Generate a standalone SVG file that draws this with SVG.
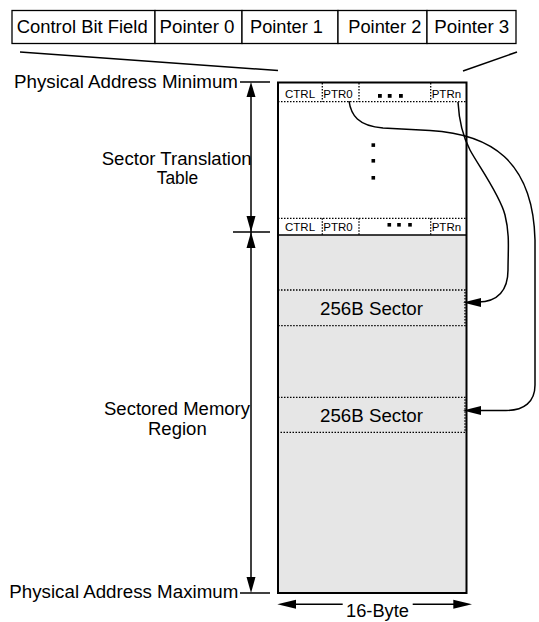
<svg xmlns="http://www.w3.org/2000/svg" width="539" height="622" viewBox="0 0 539 622">
<style>
text{font-family:"Liberation Sans",Arial,Helvetica,sans-serif;fill:#000}
.big{font-size:17.5px}
.sm{font-size:11.5px}
.cell{fill:#fff;stroke:#000;stroke-width:1.3}
.dot{stroke:#000;stroke-width:1.3;stroke-dasharray:1.5 1.5;fill:none}
.ln{stroke:#000;stroke-width:1.5;fill:none}
.sq{fill:#000}
</style>
<rect width="539" height="622" fill="#fff"/>
<g id="entry-format">
<rect class="cell" x="12" y="10.5" width="143" height="33"/>
<rect class="cell" x="155" y="10.5" width="87" height="33"/>
<rect class="cell" x="242" y="10.5" width="96" height="33"/>
<rect class="cell" x="338" y="10.5" width="89" height="33"/>
<rect class="cell" x="427" y="10.5" width="89" height="33"/>
<text class="big" x="16.7" y="32.7" textLength="131" lengthAdjust="spacingAndGlyphs">Control Bit Field</text>
<text class="big" x="159.5" y="32.7" textLength="75" lengthAdjust="spacingAndGlyphs">Pointer 0</text>
<text class="big" x="250" y="32.7" textLength="73" lengthAdjust="spacingAndGlyphs">Pointer 1</text>
<text class="big" x="348.3" y="32.7" textLength="73" lengthAdjust="spacingAndGlyphs">Pointer 2</text>
<text class="big" x="434.3" y="32.7" textLength="75" lengthAdjust="spacingAndGlyphs">Pointer 3</text>
</g>
<g id="zoom-lines">
<line class="ln" x1="20" y1="52" x2="278" y2="70.5"/>
<line class="ln" x1="463" y1="71" x2="517" y2="52"/>
</g>
<g id="memory">
<rect x="278" y="82.5" width="188.5" height="152.5" fill="#fff"/>
<rect x="278" y="235" width="188.5" height="358" fill="#e6e6e6"/>
<line class="dot" x1="278" y1="101.7" x2="466" y2="101.7"/>
<line class="dot" x1="322.3" y1="83" x2="322.3" y2="101.7"/>
<line class="dot" x1="359" y1="83" x2="359" y2="101.7"/>
<line class="dot" x1="430.7" y1="83" x2="430.7" y2="101.7"/>
<line class="dot" x1="278" y1="218.3" x2="466" y2="218.3"/>
<line class="dot" x1="322.3" y1="218.3" x2="322.3" y2="235"/>
<line class="dot" x1="359" y1="218.3" x2="359" y2="235"/>
<line class="dot" x1="430.7" y1="218.3" x2="430.7" y2="235"/>
<line class="ln" x1="278" y1="235" x2="466.5" y2="235"/>
<text class="sm" x="285" y="97.5">CTRL</text>
<text class="sm" x="323.3" y="97.5">PTR0</text>
<text class="sm" x="431.7" y="97.5">PTRn</text>
<text class="sm" x="285" y="231">CTRL</text>
<text class="sm" x="323.3" y="231">PTR0</text>
<text class="sm" x="431.7" y="231">PTRn</text>
<rect class="sq" x="378" y="94" width="3.8" height="3.8"/>
<rect class="sq" x="387.8" y="94" width="3.8" height="3.8"/>
<rect class="sq" x="399" y="94" width="3.8" height="3.8"/>
<rect class="sq" x="387.5" y="223" width="3.6" height="3.6"/>
<rect class="sq" x="397.2" y="223" width="3.6" height="3.6"/>
<rect class="sq" x="408.2" y="223" width="3.6" height="3.6"/>
<rect class="sq" x="371.5" y="143.3" width="3.6" height="3.6"/>
<rect class="sq" x="371.5" y="159" width="3.6" height="3.6"/>
<rect class="sq" x="371.5" y="176" width="3.6" height="3.6"/>
<rect x="278" y="82.5" width="188.5" height="510.5" fill="none" stroke="#000" stroke-width="2"/>
</g>
<g id="sector-1">
<rect class="dot" x="278" y="290" width="187" height="35.7"/>
<text class="big" x="320" y="314.5" textLength="103" lengthAdjust="spacingAndGlyphs">256B Sector</text>
</g>
<g id="sector-2">
<rect class="dot" x="278" y="397.3" width="187" height="35"/>
<text class="big" x="320" y="421.5" textLength="103" lengthAdjust="spacingAndGlyphs">256B Sector</text>
</g>
<g id="labels">
<text class="big" x="14" y="87.7" textLength="224" lengthAdjust="spacingAndGlyphs">Physical Address Minimum</text>
<text class="big" x="9.3" y="598" textLength="229" lengthAdjust="spacingAndGlyphs">Physical Address Maximum</text>
<text class="big" x="101.7" y="165" textLength="150" lengthAdjust="spacingAndGlyphs">Sector Translation</text>
<text class="big" x="156.7" y="184" textLength="41.6" lengthAdjust="spacingAndGlyphs">Table</text>
<text class="big" x="104" y="415" textLength="146" lengthAdjust="spacingAndGlyphs">Sectored Memory</text>
<text class="big" x="148" y="435" textLength="58.7" lengthAdjust="spacingAndGlyphs">Region</text>
<text class="big" x="346" y="617" textLength="63" lengthAdjust="spacingAndGlyphs">16-Byte</text>
</g>
<g id="connectors">
<line class="ln" x1="251" y1="90" x2="251" y2="585"/>
<line class="ln" x1="240" y1="82" x2="270" y2="82"/>
<line class="ln" x1="233" y1="232" x2="270" y2="232"/>
<line class="ln" x1="240" y1="593" x2="270" y2="593"/>
<polygon points="251,82 246.5,97 255.5,97"/>
<polygon points="251,232 246.5,216 255.5,216"/>
<polygon points="251,232 246.5,248 255.5,248"/>
<polygon points="251,593 246.5,577 255.5,577"/>
<line class="ln" x1="290" y1="604.3" x2="342.7" y2="604.3"/>
<line class="ln" x1="412.7" y1="604.3" x2="460" y2="604.3"/>
<polygon points="277.3,604.3 296,599.8 296,608.8"/>
<polygon points="472,604.3 453.3,599.8 453.3,608.8"/>
<path class="ln" d="M458,102 C459,120 462,135 470,150 S500,195 505,215 S508,250 508,270 C508,290 498,302 478,302"/>
<polygon points="463,302.5 481,298 481,307"/>
<path class="ln" d="M349,101 C351,115 358,126 383,128 L430,130.5 C490,134 533,160 535,240 L535,385 C535,402 524,410.5 506,410.5 L478,410.5"/>
<polygon points="463,410.5 481,406 481,415"/>
</g>
</svg>
